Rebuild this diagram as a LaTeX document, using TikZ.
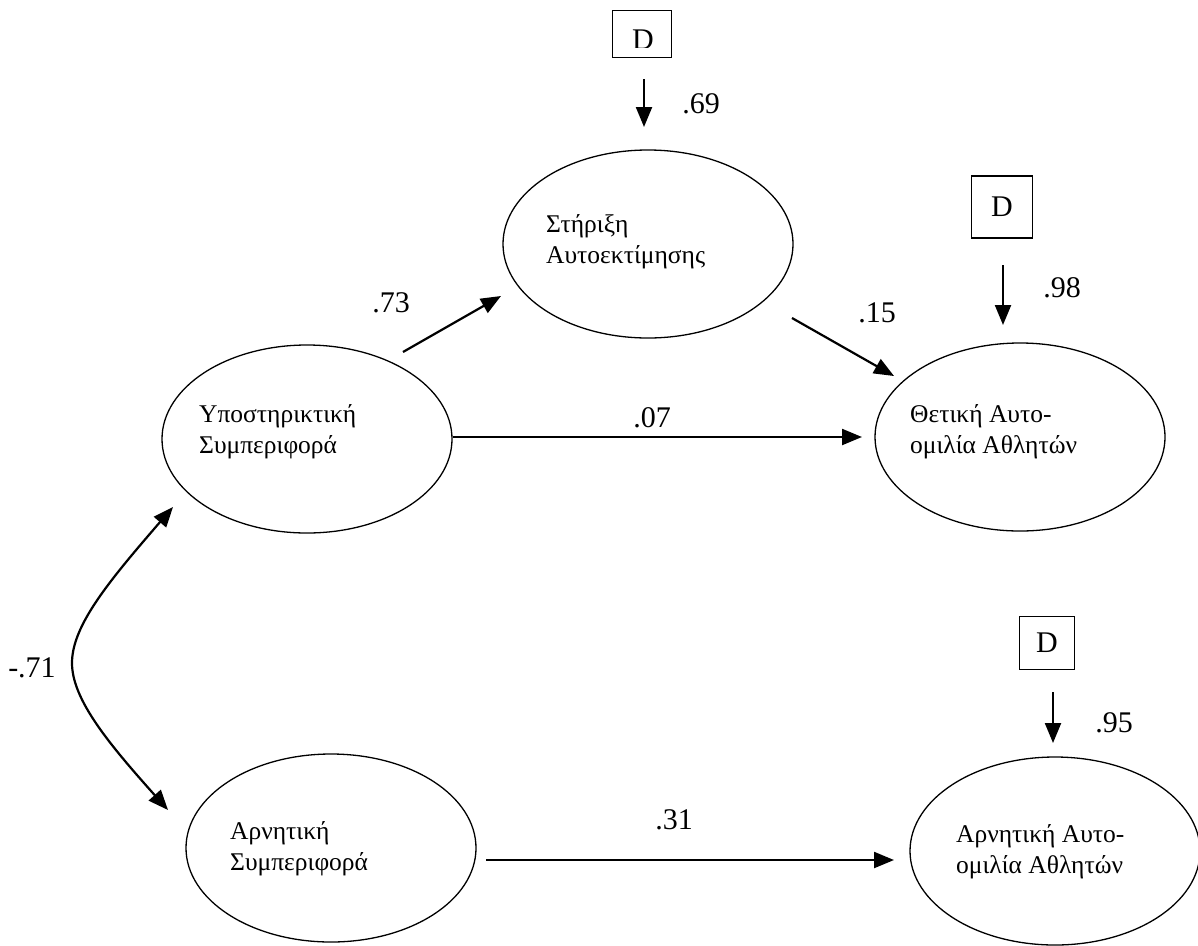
\documentclass[tikz,border=0pt]{standalone}
\usepackage{fontspec}
\setmainfont{Liberation Serif}
\usetikzlibrary{arrows.meta,shapes.geometric}
\begin{document}
\begin{tikzpicture}[x=1pt,y=-1pt,
  latent/.style={draw,ellipse,line width=1.3pt,inner sep=0pt,minimum width=290pt,minimum height=188pt},
  etext/.style={anchor=west,align=left,inner sep=0pt,font=\fontsize{25.5}{31}\selectfont},
  dbox/.style={draw,line width=1.3pt,inner sep=0pt,font=\fontsize{30}{34}\selectfont},
  coef/.style={inner sep=0pt,font=\fontsize{30}{34}\selectfont},
  arr/.style={line width=2.2pt,-{Triangle[length=20pt,width=16pt]}},
  darr/.style={line width=2.2pt,{Triangle[length=20pt,width=16pt]}-{Triangle[length=20pt,width=16pt]}}]
\useasboundingbox (0,0) rectangle (1198,945);
% latent variables
\node[latent] (S) at (648,244) {};
\node[latent] (Y) at (307,439) {};
\node[latent] (T) at (1020,437) {};
\node[latent] (A) at (331,848) {};
\node[latent] (N) at (1055,851) {};
\node[etext] (tS) at (546,242) {Στήριξη\\Αυτοεκτίμησης};
\node[etext] (tY) at (199,432) {Υποστηρικτική\\Συμπεριφορά};
\node[etext] (tT) at (910,432) {Θετική Αυτο-\\ομιλία Αθλητών};
\node[etext] (tA) at (230,849) {Αρνητική\\Συμπεριφορά};
\node[etext] (tN) at (956,852) {Αρνητική Αυτο-\\ομιλία Αθλητών};
% disturbances
\node[dbox,minimum width=59pt,minimum height=47pt] (d1) at (642,34) {};
\begin{scope}
  \clip (613,11) rectangle (672,47);
  \node[coef] (d1t) at (643,40) {D};
\end{scope}
\node[dbox,minimum width=61pt,minimum height=62pt] (d2) at (1002,207) {D};
\node[dbox,minimum width=55pt,minimum height=53pt] (d3) at (1047,643) {D};
\coordinate (d1a) at (644,79);  \coordinate (d1b) at (644,127);
\coordinate (d2a) at (1003,265); \coordinate (d2b) at (1003,325);
\coordinate (d3a) at (1053,692); \coordinate (d3b) at (1053,743);
\draw[arr] (d1a) -- (d1b);
\draw[arr] (d2a) -- (d2b);
\draw[arr] (d3a) -- (d3b);
% paths
\coordinate (p1a) at (403,352); \coordinate (p1b) at (501,296);
\coordinate (p2a) at (792,318); \coordinate (p2b) at (894,376);
\coordinate (p3a) at (453,437); \coordinate (p3b) at (862,437);
\coordinate (p4a) at (486,860); \coordinate (p4b) at (894,860);
\draw[arr] (p1a) -- (p1b);
\draw[arr] (p2a) -- (p2b);
\draw[arr] (p3a) -- (p3b);
\draw[arr] (p4a) -- (p4b);
% correlation
\coordinate (c1) at (173,507); \coordinate (cm) at (72,663); \coordinate (c2) at (168,810);
\draw[darr] (c1) .. controls (110,580) and (72,625) .. (cm) .. controls (72,700) and (110,745) .. (c2);
% coefficients
\node[coef] (l69) at (701,104) {.69};
\node[coef] (l98) at (1062,288) {.98};
\node[coef] (l95) at (1114,723) {.95};
\node[coef] (l73) at (391,303) {.73};
\node[coef] (l15) at (877,313) {.15};
\node[coef] (l07) at (652,418) {.07};
\node[coef] (l31) at (674,820) {.31};
\node[coef] (l71) at (32,668) {-.71};
\end{tikzpicture}
\end{document}
